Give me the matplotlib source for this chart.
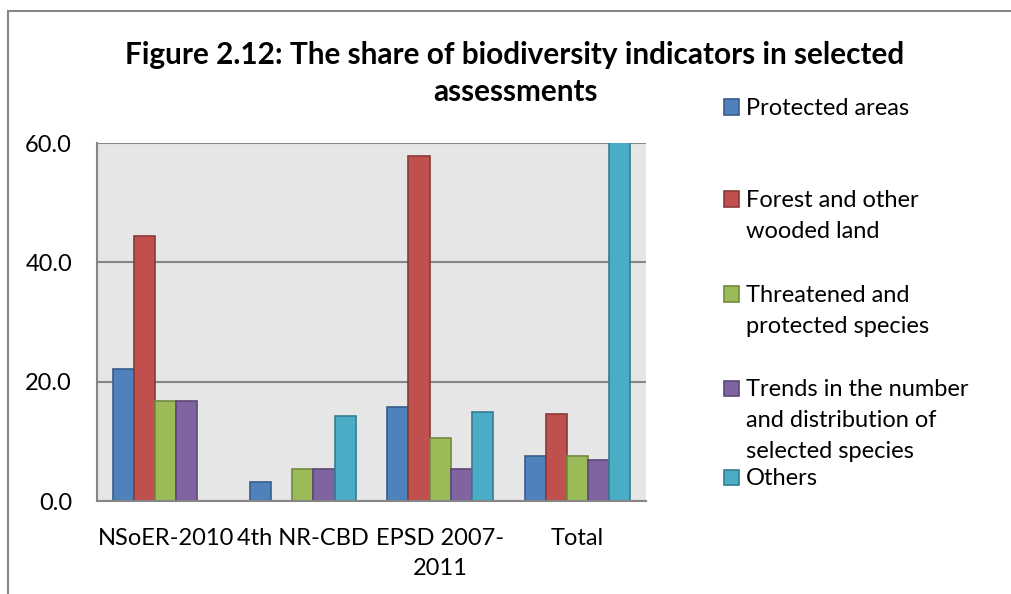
import numpy as np
import matplotlib
matplotlib.use("Agg")
import matplotlib.pyplot as plt
from matplotlib.patches import Rectangle

# data
categories = ["NSoER-2010", "4th NR-CBD", "EPSD 2007-\n2011", "Total"]
protected_areas = [22.2, 3.2, 15.8, 7.6]
forest_land = [44.4, 0.0, 57.9, 14.6]
threatened_species = [16.7, 5.3, 10.5, 7.6]
species_trends = [16.7, 5.3, 5.3, 6.8]
others = [0.0, 14.3, 15.0, 64.0]

series_names = ["Protected areas", "Forest and other\nwooded land",
                "Threatened and\nprotected species",
                "Trends in the number\nand distribution of\nselected species",
                "Others"]
face_colors = ["#4F81BD", "#C0504D", "#9BBB59", "#8064A2", "#4BACC6"]
edge_colors = ["#385D8A", "#8C3836", "#71893F", "#5C4776", "#357D91"]

plt.rcParams['font.family'] = ['Lato', 'DejaVu Sans']

fig = plt.figure(figsize=(10.11, 5.94), dpi=100)
ax = fig.add_axes([97 / 1011, 1 - 501 / 594, 549 / 1011, 358 / 594])
ax.set_facecolor("#E6E6E6")

all_series = [protected_areas, forest_land, threatened_species, species_trends, others]
x = np.arange(len(categories))
bar_w = 1 / 6.5
for i, vals in enumerate(all_series):
    ax.bar(x + (i - 2) * bar_w, vals, width=bar_w, color=face_colors[i],
           edgecolor=edge_colors[i], linewidth=1.2, zorder=3)

ax.set_xlim(-0.5, len(categories) - 0.5)
ax.set_ylim(0, 60)
ax.set_yticks([0, 20, 40, 60])
ax.set_yticklabels(["%.1f" % v for v in [0, 20, 40, 60]])
ax.set_xticks(x)
ax.set_xticklabels(categories, linespacing=1.55)
ax.tick_params(axis='both', length=0, labelsize=17, colors='black')
ax.tick_params(axis='y', pad=18)
ax.tick_params(axis='x', pad=19.5)
ax.yaxis.grid(True, color="#868686", linewidth=1.5, zorder=1)
ax.set_axisbelow(True)
for side in ["top", "right"]:
    ax.spines[side].set_visible(False)
for side in ["left", "bottom"]:
    ax.spines[side].set_color("#868686")
    ax.spines[side].set_linewidth(1.5)
    ax.spines[side].set_zorder(4)

# title, two lines placed separately
fig.text(515 / 1011, 1 - 55 / 594,
         "Figure 2.12: The share of biodiversity indicators in selected",
         ha='center', va='center', fontsize=21.4, fontweight='bold')
fig.text(515 / 1011, 1 - 92 / 594, "assessments",
         ha='center', va='center', fontsize=21.4, fontweight='bold')

# legend drawn by hand to follow the irregular spacing
legend_y = [107, 199, 294, 388, 477]
for name, fc, ec, y in zip(series_names, face_colors, edge_colors, legend_y):
    fig.add_artist(Rectangle((724 / 1011, 1 - (y + 7.5) / 594), 15 / 1011, 15 / 594,
                             facecolor=fc, edgecolor=ec, linewidth=1.2,
                             transform=fig.transFigure))
    fig.text(746 / 1011, 1 - (y - 9) / 594, name, ha='left', va='top',
             fontsize=17, linespacing=1.59)

# chart frame
fig.add_artist(Rectangle((8 / 1011, -0.1), 1.1, 1.1 - 11 / 594, fill=False,
                         edgecolor="#868686", linewidth=1.5,
                         transform=fig.transFigure))

fig.savefig("out.png", dpi=100)
